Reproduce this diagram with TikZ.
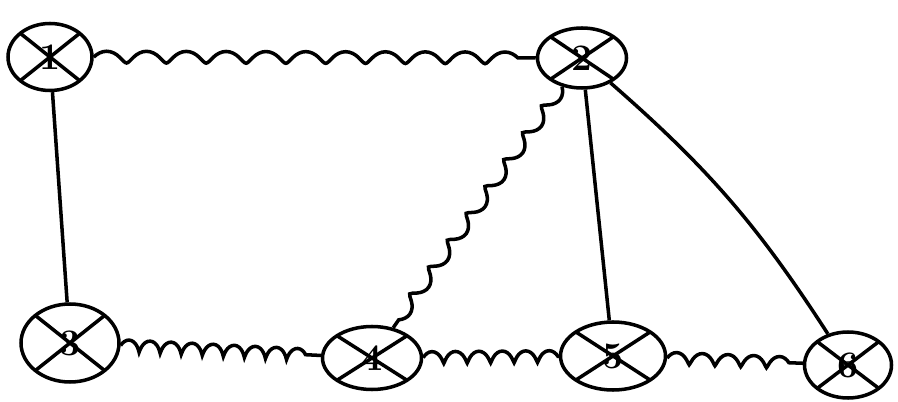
\documentclass[tikz,border=0pt]{standalone}
\usetikzlibrary{shapes.geometric,decorations.pathmorphing}
\begin{document}
\begin{tikzpicture}[x=0.03cm,y=-0.03cm]
  \def\lw{3pt}
  \tikzset{
    vertex/.style={ellipse, draw, line width=\lw, inner sep=0pt,
      font=\fontsize{32}{32}\selectfont\bfseries,
      path picture={\draw[line width=\lw]
        (path picture bounding box.north west) -- (path picture bounding box.south east)
        (path picture bounding box.north east) -- (path picture bounding box.south west);}},
    spring/.style={line width=\lw, decorate,
      decoration={coil, aspect=0.5, segment length=#1, amplitude=5pt}},
    spring/.default=20pt,
    plain/.style={line width=\lw}
  }
  \useasboundingbox (0,0) rectangle (898,402);

  % Vertices
  \foreach \v/\x/\y/\w/\h in {1/50/57/84/67, 2/582/58/89/60, 3/70/343/98/78,
                              4/372/358/99/63, 5/613/356/105/68, 6/848/365/87/66} {
    \node[vertex, minimum width=\w*0.03cm, minimum height=\h*0.03cm] (v\v) at (\x,\y) {\v};
  }

  % Edges
  \draw[spring=34pt] (v1) -- (v2);
  \draw[plain] (v1) -- (v3);
  \draw[spring=18pt] (v3) -- (v4);
  \draw[spring=28pt] (v2) -- (v4);
  \draw[plain] (v2) -- (v5);
  \draw[plain] (v2) to[bend left=8] (v6);
  \draw[spring=20pt] (v4) -- (v5);
  \draw[spring=22pt] (v5) -- (v6);
\end{tikzpicture}
\end{document}
